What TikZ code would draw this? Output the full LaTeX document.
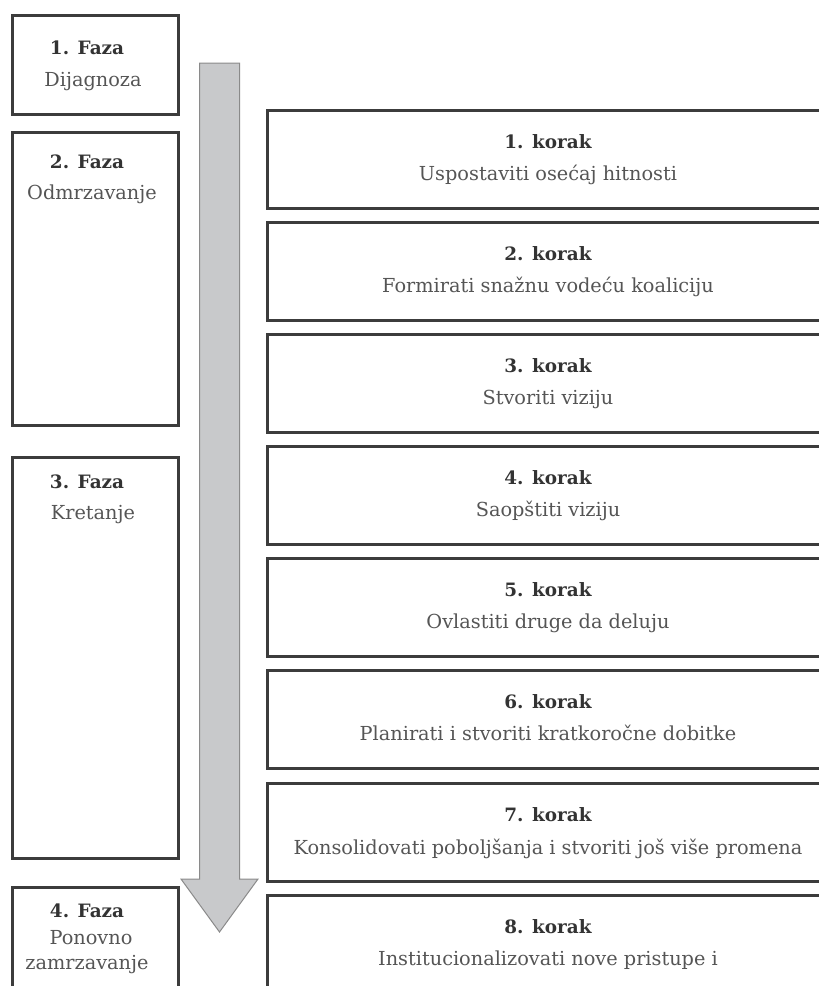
\documentclass[tikz,border=0pt]{standalone}
\usepackage{fontspec}
\setmainfont{DejaVu Serif}
\definecolor{edgec}{HTML}{3C3C3C}
\definecolor{titlec}{HTML}{333333}
\definecolor{subc}{HTML}{555555}
\definecolor{arrowc}{HTML}{C8C9CB}
\definecolor{arrowedge}{HTML}{8A8A8A}
\begin{document}
\begin{tikzpicture}[x=1pt,y=-1pt,
  box/.style={draw=edgec, line width=2.5pt, fill=white, inner sep=0pt, anchor=north west},
  fazabox/.style={box, minimum width=166pt},
  korakbox/.style={box, minimum width=564pt, minimum height=98pt},
  ttl/.style={anchor=base, inner sep=0pt, font=\fontsize{18.4}{22}\selectfont\bfseries, text=titlec},
  sub/.style={anchor=base, inner sep=0pt, font=\fontsize{19.3}{22}\selectfont, text=subc},
  bigarrow/.style={fill=arrowc, draw=arrowedge, line width=1pt, line join=miter}]
\useasboundingbox (0,0) rectangle (819,986);
\clip (0,0) rectangle (819,986);
% left phase boxes
\node[fazabox, minimum height=99pt] (f1) at (11,14) {};
\node[fazabox, minimum height=293pt] (f2) at (11,131) {};
\node[fazabox, minimum height=401pt] (f3) at (11,456) {};
\node[fazabox, minimum height=140pt] (f4) at (11,886) {};
\node[ttl] (f1t) at (87,54) {1. Faza};
\node[sub] (f1s) at (93,86) {Dijagnoza};
\node[ttl] (f2t) at (87,168) {2. Faza};
\node[sub] (f2s) at (92,199) {Odmrzavanje};
\node[ttl] (f3t) at (87,488) {3. Faza};
\node[sub] (f3s) at (93,519) {Kretanje};
\node[ttl] (f4t) at (87,917) {4. Faza};
\node[sub] (f4s) at (91,944) {Ponovno};
\node[sub] (f4u) at (87,969) {zamrzavanje};
% right step boxes
\node[korakbox] (k1) at (266,109) {};
\node[korakbox] (k2) at (266,221) {};
\node[korakbox] (k3) at (266,333) {};
\node[korakbox] (k4) at (266,445) {};
\node[korakbox] (k5) at (266,557) {};
\node[korakbox] (k6) at (266,669) {};
\node[korakbox] (k7) at (266,782) {};
\node[korakbox, minimum height=140pt] (k8) at (266,894) {};
\node[ttl] (k1t) at (548,148) {1. korak};
\node[sub] (k1s) at (548,180) {Uspostaviti osećaj hitnosti};
\node[ttl] (k2t) at (548,260) {2. korak};
\node[sub] (k2s) at (548,292) {Formirati snažnu vodeću koaliciju};
\node[ttl] (k3t) at (548,372) {3. korak};
\node[sub] (k3s) at (548,404) {Stvoriti viziju};
\node[ttl] (k4t) at (548,484) {4. korak};
\node[sub] (k4s) at (548,516) {Saopštiti viziju};
\node[ttl] (k5t) at (548,596) {5. korak};
\node[sub] (k5s) at (548,628) {Ovlastiti druge da deluju};
\node[ttl] (k6t) at (548,708) {6. korak};
\node[sub] (k6s) at (548,740) {Planirati i stvoriti kratkoročne dobitke};
\node[ttl] (k7t) at (548,821) {7. korak};
\node[sub] (k7s) at (548,854) {Konsolidovati poboljšanja i stvoriti još više promena};
\node[ttl] (k8t) at (548,933) {8. korak};
\node[sub] (k8s) at (548,965) {Institucionalizovati nove pristupe i};
% big down arrow
\draw[bigarrow] (199.5,63) -- (239.5,63) -- (239.5,879) -- (258,879)
  -- (219.5,932) -- (181,879) -- (199.5,879) -- cycle;
\end{tikzpicture}
\end{document}
